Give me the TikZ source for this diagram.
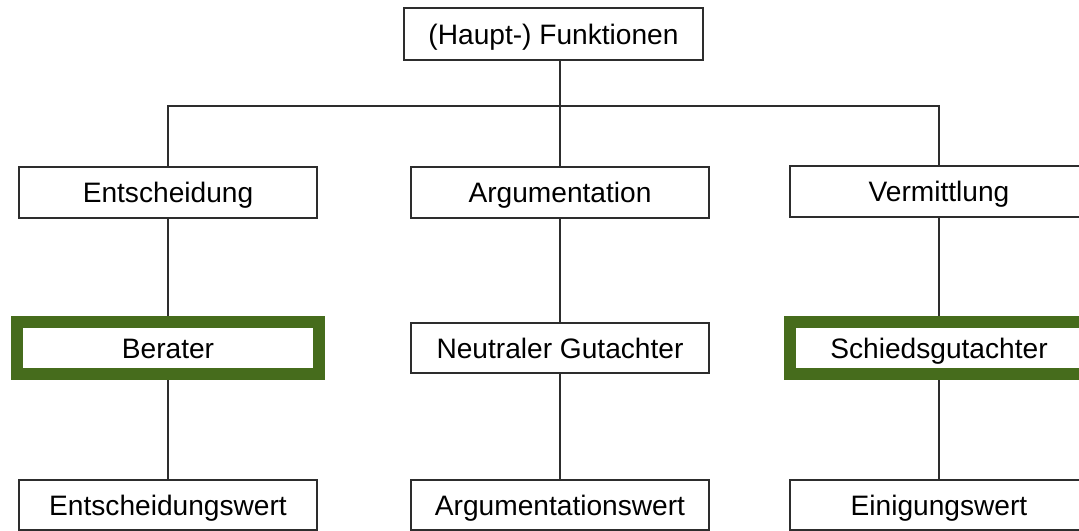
\documentclass[tikz,border=0pt]{standalone}
\usepackage{fontspec}
\setmainfont{Liberation Sans}
\definecolor{framegray}{RGB}{45, 45, 45}
\definecolor{rolegreen}{RGB}{70, 108, 28}
\usepackage{tikz}
\usetikzlibrary{positioning, calc}

\begin{document}
\begin{tikzpicture}[x=0.025cm, y=-0.025cm,
    funcbox/.style={draw=framegray, line width=1.4pt, fill=white, inner sep=0pt,
      minimum width=7.45cm, minimum height=1.28cm,
      font=\fontsize{20}{24}\selectfont, text height=14.3pt, text depth=0pt},
    rolebox/.style={funcbox, draw=rolegreen, line width=0.3cm,
      minimum width=7.55cm, minimum height=1.3cm},
    link/.style={draw=framegray, line width=1.1pt}]
  \useasboundingbox (0, 0) rectangle (1079, 531);

  % Top
  \node[funcbox] (haupt) at (553.5, 34) {(Haupt-) Funktionen};
  \coordinate (bar) at (0, 106);

  % Functions
  \node[funcbox] (ent) at (168, 192.5) {Entscheidung};
  \node[funcbox] (arg) at (560, 192.5) {Argumentation};
  \node[funcbox] (verm) at (939, 191.5) {Vermittlung};

  % Roles
  \node[rolebox] (ber) at (168, 348) {Berater};
  \node[funcbox, minimum height=1.25cm] (neut) at (560, 348) {Neutraler Gutachter};
  \node[rolebox, minimum width=7.43cm] (schied) at (939, 348) {Schiedsgutachter};

  % Values
  \node[funcbox, minimum height=1.25cm] (entw) at (168, 505) {Entscheidungswert};
  \node[funcbox, minimum height=1.25cm] (argw) at (560, 505) {Argumentationswert};
  \node[funcbox, minimum height=1.25cm] (einw) at (939, 505) {Einigungswert};

  % Tree
  \draw[link] (haupt.south -| arg.north) -- (arg.north);
  \draw[link] (ent.north) -- (ent.north |- bar) -- (verm.north |- bar) -- (verm.north);

  \draw[link] (ent.south) -- (ber.north);
  \draw[link] (arg.south) -- (neut.north);
  \draw[link] (verm.south) -- (schied.north);

  \draw[link] (ber.south) -- (entw.north);
  \draw[link] (neut.south) -- (argw.north);
  \draw[link] (schied.south) -- (einw.north);
\end{tikzpicture}
\end{document}
